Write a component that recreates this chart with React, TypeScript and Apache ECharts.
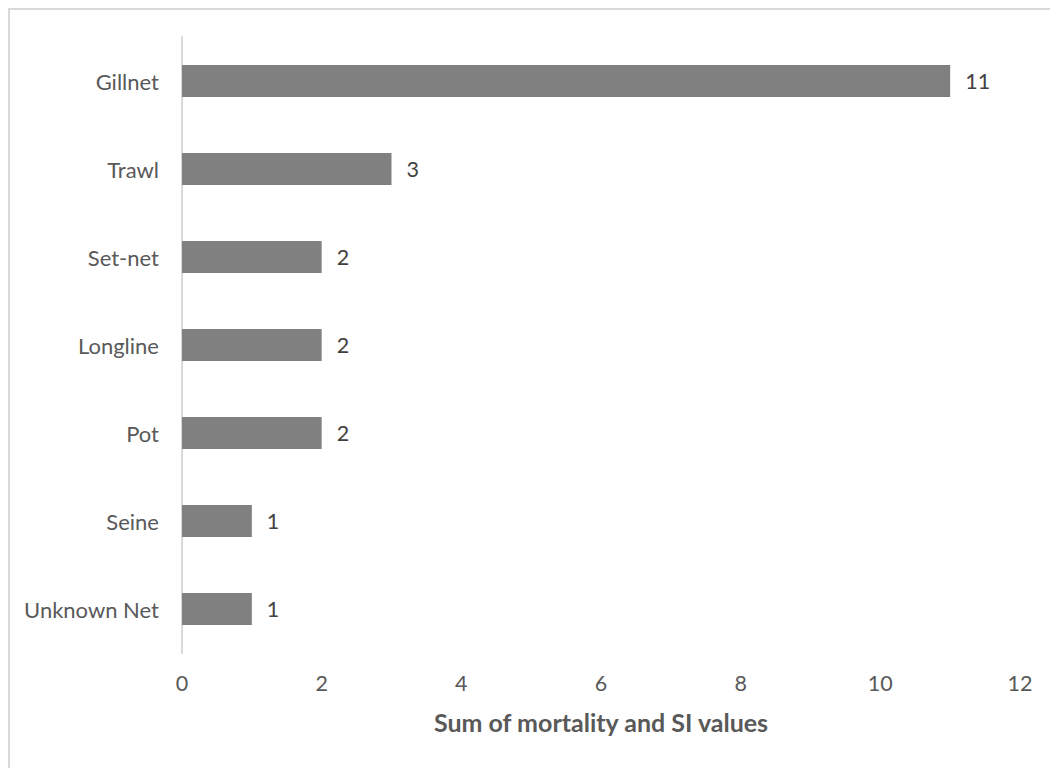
import React, { useEffect, useRef } from "react";
import * as echarts from "echarts";

const categories = ["Gillnet", "Trawl", "Set-net", "Longline", "Pot", "Seine", "Unknown Net"];
const values = [11, 3, 2, 2, 2, 1, 1];
const axisTitle = "Sum of mortality and SI values";
const xMin = 0;
const xMax = 12;
const xInterval = 2;

const FONT = "Lato, 'Open Sans', sans-serif";

export default function App() {
  const ref = useRef<HTMLDivElement>(null);
  useEffect(() => {
    if (!ref.current) return;
    const chart = echarts.init(ref.current, null, { renderer: "svg" });
    chart.setOption({
      animation: false,
      backgroundColor: "#ffffff",
      textStyle: { fontFamily: FONT },
      grid: { left: 182, right: 30, top: 37, bottom: 115, containLabel: false },
      xAxis: {
        type: "value",
        min: xMin,
        max: xMax,
        interval: xInterval,
        axisLine: { show: false },
        axisTick: { show: false },
        splitLine: { show: false },
        axisLabel: { color: "#595959", fontSize: 21.5, margin: 19, fontFamily: FONT },
      },
      yAxis: {
        type: "category",
        data: categories,
        inverse: true,
        axisLine: { show: true, lineStyle: { color: "#d9d9d9", width: 2 } },
        axisTick: { show: false },
        axisLabel: { color: "#595959", fontSize: 22, margin: 23, fontFamily: FONT },
      },
      series: [
        {
          type: "bar",
          data: values,
          barWidth: 32,
          itemStyle: { color: "#808080" },
          label: {
            show: true,
            position: "right",
            distance: 15,
            color: "#404040",
            fontSize: 21.5,
            fontFamily: FONT,
          },
        },
      ],
      graphic: [
        {
          type: "line",
          shape: { x1: 9, y1: 8, x2: 9, y2: 768 },
          style: { stroke: "#d9d9d9", lineWidth: 2 },
        },
        {
          type: "line",
          shape: { x1: 8, y1: 9, x2: 1050, y2: 9 },
          style: { stroke: "#d9d9d9", lineWidth: 2 },
        },
        {
          type: "text",
          x: 601,
          y: 722,
          style: {
            text: axisTitle,
            fill: "#595959",
            font: `bold 25px ${FONT}`,
            textAlign: "center",
            textVerticalAlign: "middle",
          },
        },
      ],
    });
    return () => chart.dispose();
  }, []);
  return (
    <div
      ref={ref}
      style={{ position: "fixed", left: 0, top: 0, width: 1050, height: 768 }}
    />
  );
}
